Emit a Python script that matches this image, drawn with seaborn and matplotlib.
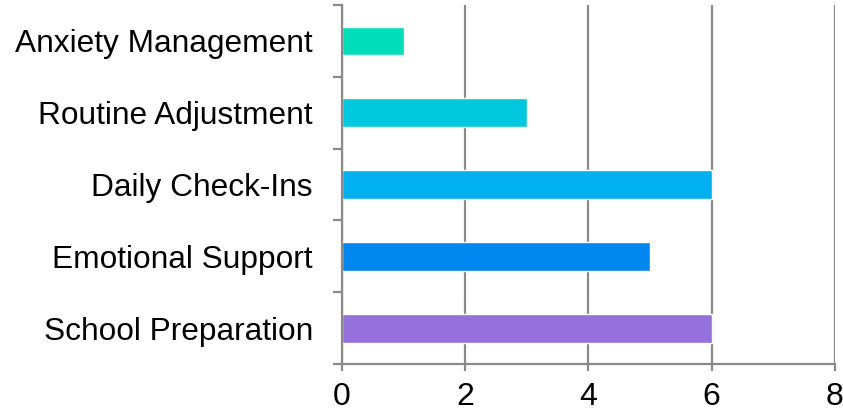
import matplotlib
matplotlib.use("Agg")
import matplotlib.pyplot as plt
import seaborn as sns
import pandas as pd

categories = ["Anxiety Management", "Routine Adjustment", "Daily Check-Ins",
              "Emotional Support", "School Preparation"]
values = [1, 3, 6, 5, 6]
colors = ["#00DDBB", "#00C8DD", "#00B0F0", "#0088F0", "#9370DB"]
xticks = [0, 2, 4, 6, 8]

sns.set_style("white")
plt.rcParams['font.family'] = ['Liberation Sans', 'DejaVu Sans']

df = pd.DataFrame({"category": categories, "value": values})

fig = plt.figure(figsize=(8.43, 4.18), dpi=100)
ax = fig.add_axes([0.4057, 0.129, 0.5848, 0.859])
sns.barplot(data=df, y="category", x="value", hue="category", palette=colors,
            order=categories, width=0.4, legend=False, ax=ax, saturation=1)

grid_c = "#8a8a8a"
ax.set_xlim(0, 8)
ax.set_ylim(len(categories) - 0.5, -0.5)
ax.set_xticks(xticks)
ax.set_xticklabels([str(t) for t in xticks], fontsize=23, color="black")
ax.set_yticks(range(len(categories)))
ax.set_yticklabels(categories, fontsize=22.8, color="black")
ax.tick_params(axis="y", which="major", left=False, length=0, pad=21)
ax.tick_params(axis="x", bottom=True, length=5, width=1.6, color=grid_c, pad=8)
ax.set_yticks([i - 0.5 for i in range(len(categories) + 1)], minor=True)
ax.tick_params(axis="y", which="minor", left=True, length=6.5, width=1.6, color=grid_c)
ax.set_xlabel("")
ax.set_ylabel("")
ax.xaxis.grid(True, color=grid_c, linewidth=1.6)
ax.set_axisbelow(True)
for s in ["top", "right"]:
    ax.spines[s].set_visible(False)
for s in ["left", "bottom"]:
    ax.spines[s].set_color(grid_c)
    ax.spines[s].set_linewidth(1.6)

fig.savefig("out.png", dpi=100)
